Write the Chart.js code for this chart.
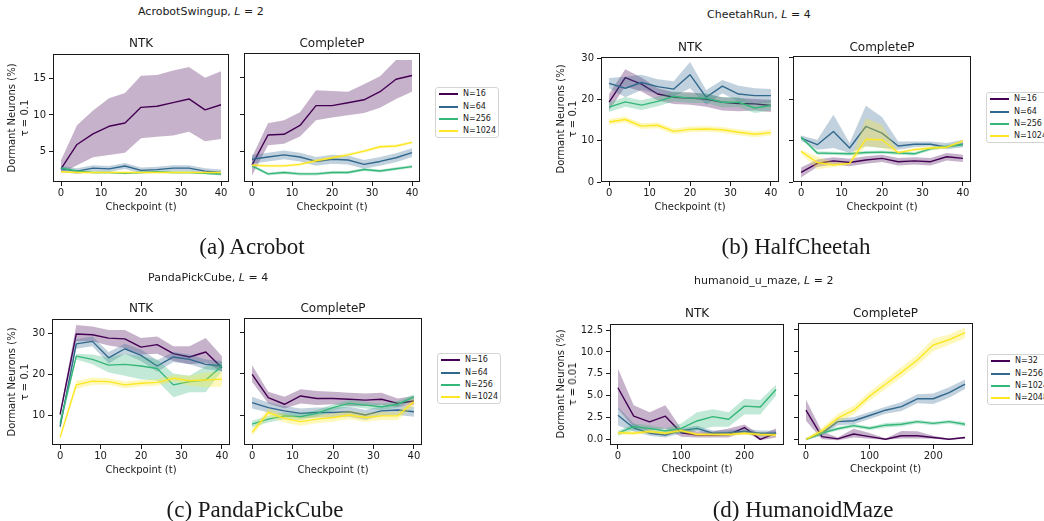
<!DOCTYPE html>
<html>
<head>
<meta charset="utf-8">
<title>Dormant neurons: NTK vs CompleteP</title>
<script src="https://cdn.jsdelivr.net/npm/chart.js"></script>
<style>
  body { margin: 0; width: 1044px; height: 521px; overflow: hidden; background: #fff; position: relative;
         font-family: "DejaVu Sans", sans-serif; color: #1a1a1a; }
  canvas { position: absolute; }
  .txt { position: absolute; white-space: nowrap; line-height: 1.2; }
  .leg { position: absolute; width: 64px; height: 51px; border: 1px solid #d4d4d4; border-radius: 3px;
         background: #fff; box-sizing: border-box; }
  .leg i { position: absolute; left: 3px; width: 19px; height: 2px; }
  .leg span { position: absolute; left: 27px; font-size: 8px; line-height: 10px; transform: translateY(-50%); }
</style>
</head>
<body>
<script>
// checkpoints and ticks
const checkpoints = [0, 4, 8, 12, 16, 20, 24, 28, 32, 36, 40];
const mazeCheckpoints = [0, 25, 50, 75, 100, 125, 150, 175, 200, 225, 250];
const xTicks = [0, 10, 20, 30, 40];
const mazeXTicks = [0, 100, 200];
const acroYTicks = [5, 10, 15];
const cheetahYTicks = [0, 10, 20, 30];
const pandaYTicks = [10, 20, 30];
const mazeYTicks = [0, 2.5, 5, 7.5, 10, 12.5];
const widthsShort = ['N=16', 'N=64', 'N=256', 'N=1024'];
const widthsMaze = ['N=32', 'N=256', 'N=1024', 'N=2048'];
const viridis = ['#440154', '#31688e', '#35b779', '#fde725'];

// dormant neuron % per width (rows follow the width lists above)
const acroNtkMean = [
  [2.6, 5.95, 7.4, 8.45, 8.9, 11.05, 11.2, 11.7, 12.2, 10.7, 11.4],
  [2.6, 2.3, 2.7, 2.6, 3.0, 2.4, 2.5, 2.7, 2.7, 2.3, 2.1],
  [2.7, 2.3, 2.1, 2.1, 2.0, 2.1, 2.2, 2.1, 2.1, 2.0, 1.9],
  [2.2, 2.1, 2.1, 2.1, 2.1, 2.1, 2.1, 2.1, 2.1, 2.1, 2.1]
];
const acroNtkLo = [
  [2.0, 3.1, 4.2, 4.5, 4.8, 6.8, 7.0, 7.2, 7.7, 6.4, 6.7],
  [2.2, 1.9, 2.3, 2.2, 2.6, 2.0, 2.1, 2.3, 2.3, 1.9, 1.7],
  [2.5, 2.1, 1.95, 1.95, 1.85, 1.95, 2.05, 1.95, 1.95, 1.85, 1.75],
  [2.1, 2.0, 2.0, 2.0, 2.0, 2.0, 2.0, 2.0, 2.0, 2.0, 2.0]
];
const acroNtkHi = [
  [3.8, 8.6, 10.6, 12.3, 13.0, 15.4, 15.5, 16.1, 16.6, 15.1, 16.0],
  [3.0, 2.7, 3.1, 3.0, 3.4, 2.8, 2.9, 3.1, 3.1, 2.7, 2.5],
  [2.9, 2.5, 2.25, 2.25, 2.15, 2.25, 2.35, 2.25, 2.25, 2.15, 2.05],
  [2.3, 2.2, 2.2, 2.2, 2.2, 2.2, 2.2, 2.2, 2.2, 2.2, 2.2]
];
const acroCpMean = [
  [3.1, 7.2, 7.3, 8.5, 11.2, 11.2, 11.6, 12.0, 13.1, 14.8, 15.3],
  [3.9, 4.2, 4.5, 4.2, 3.6, 3.9, 3.8, 3.2, 3.6, 4.1, 4.8],
  [3.0, 1.9, 2.1, 1.9, 1.9, 2.1, 2.1, 2.5, 2.3, 2.6, 2.9],
  [3.1, 3.0, 3.0, 3.2, 3.7, 4.1, 4.5, 5.0, 5.6, 5.7, 6.2]
];
const acroCpLo = [
  [1.7, 5.8, 6.0, 7.0, 9.2, 9.6, 9.9, 10.2, 10.9, 12.1, 13.1],
  [3.3, 3.6, 3.9, 3.6, 3.0, 3.3, 3.2, 2.6, 3.0, 3.5, 4.2],
  [2.8, 1.7, 1.9, 1.7, 1.7, 1.9, 1.9, 2.3, 2.1, 2.4, 2.7],
  [2.9, 2.8, 2.8, 3.0, 3.5, 3.9, 4.3, 4.8, 5.4, 5.5, 6.0]
];
const acroCpHi = [
  [4.2, 8.8, 9.2, 10.3, 13.3, 13.2, 13.1, 14.1, 15.2, 17.4, 17.4],
  [4.5, 4.8, 5.1, 4.8, 4.2, 4.5, 4.4, 3.8, 4.2, 4.7, 5.4],
  [3.2, 2.1, 2.3, 2.1, 2.1, 2.3, 2.3, 2.7, 2.5, 2.8, 3.1],
  [3.3, 3.2, 3.2, 3.4, 3.9, 4.3, 4.7, 5.2, 5.8, 5.9, 6.4]
];

const cheetahNtkMean = [
  [19.4, 25.4, 23.8, 21.4, 20.6, 20.4, 20.2, 19.4, 19.1, 19.0, 18.6],
  [24.0, 22.8, 24.2, 23.2, 22.6, 26.1, 20.6, 23.3, 21.4, 21.0, 21.0],
  [18.2, 19.5, 18.7, 19.6, 20.8, 20.4, 20.4, 19.4, 19.4, 18.0, 18.6],
  [14.6, 15.2, 13.6, 13.8, 12.3, 12.8, 12.9, 12.7, 12.1, 11.6, 12.0]
];
const cheetahNtkLo = [
  [17.4, 23.2, 22.0, 19.8, 19.0, 18.8, 18.3, 17.4, 17.2, 17.4, 17.0],
  [22.8, 20.6, 22.4, 21.4, 20.8, 22.8, 18.8, 21.6, 19.5, 19.1, 19.4],
  [17.0, 18.3, 17.5, 18.4, 19.6, 19.2, 19.2, 18.2, 18.2, 16.8, 17.4],
  [13.9, 14.5, 12.9, 13.1, 11.6, 12.1, 12.2, 12.0, 11.4, 10.9, 11.3]
];
const cheetahNtkHi = [
  [21.4, 27.4, 25.4, 22.8, 21.8, 21.8, 21.4, 20.6, 20.4, 20.2, 20.0],
  [25.3, 25.6, 26.1, 25.0, 24.5, 29.2, 22.4, 24.8, 23.4, 22.8, 22.6],
  [19.4, 20.7, 19.9, 20.8, 22.0, 21.6, 21.6, 20.6, 20.6, 19.2, 19.8],
  [15.3, 15.9, 14.3, 14.5, 13.0, 13.5, 13.6, 13.4, 12.8, 12.3, 12.7]
];
const cheetahCpMean = [
  [2.3, 4.5, 5.1, 4.7, 5.3, 5.7, 4.9, 5.1, 4.9, 6.1, 5.7],
  [10.6, 9.0, 12.2, 8.2, 13.4, 11.8, 8.7, 9.1, 9.1, 8.4, 9.2],
  [10.8, 7.0, 6.9, 6.8, 7.1, 7.2, 7.0, 6.8, 8.0, 8.6, 9.0],
  [7.4, 4.7, 4.1, 4.5, 10.3, 10.2, 7.1, 7.8, 8.2, 8.4, 9.9]
];
const cheetahCpLo = [
  [1.1, 3.6, 4.2, 3.8, 4.4, 4.8, 4.0, 4.2, 4.0, 5.2, 4.8],
  [10.0, 7.8, 8.2, 7.0, 8.6, 8.2, 7.8, 8.4, 8.6, 7.9, 8.4],
  [10.4, 6.6, 6.5, 6.4, 6.7, 6.8, 6.6, 6.4, 7.6, 8.2, 8.6],
  [6.8, 3.1, 3.6, 4.1, 8.6, 8.2, 6.8, 7.4, 7.8, 8.0, 9.5]
];
const cheetahCpHi = [
  [3.5, 5.4, 6.0, 5.6, 6.2, 6.6, 5.8, 6.0, 5.8, 7.0, 6.6],
  [11.2, 10.2, 16.2, 9.4, 18.4, 15.7, 9.8, 9.8, 9.8, 9.4, 10.2],
  [11.2, 7.4, 7.3, 7.2, 7.5, 7.6, 7.4, 7.2, 8.4, 9.0, 9.4],
  [7.8, 6.1, 4.7, 4.7, 15.4, 13.8, 7.4, 8.2, 8.6, 8.7, 10.2]
];

const pandaNtkMean = [
  [10.2, 29.8, 29.6, 28.8, 28.6, 26.6, 27.2, 25.0, 24.2, 25.4, 21.6],
  [7.2, 27.4, 28.0, 24.0, 26.2, 24.6, 22.0, 24.2, 23.6, 22.4, 22.0],
  [8.0, 24.4, 23.6, 22.2, 22.4, 22.0, 21.4, 17.4, 18.2, 18.6, 22.0],
  [4.6, 17.4, 18.3, 18.2, 17.4, 17.8, 18.0, 19.0, 18.4, 18.6, 18.8]
];
const pandaNtkLo = [
  [9.6, 28.0, 28.0, 27.0, 26.4, 24.8, 25.0, 23.2, 22.4, 22.8, 20.6],
  [6.4, 26.2, 26.8, 22.6, 25.0, 23.2, 20.6, 23.0, 22.4, 21.2, 20.8],
  [6.8, 23.6, 22.4, 20.4, 19.6, 18.8, 18.4, 14.4, 15.6, 15.6, 20.8],
  [4.0, 16.4, 17.4, 17.4, 16.6, 17.0, 17.2, 18.2, 17.2, 16.8, 17.0]
];
const pandaNtkHi = [
  [10.8, 32.0, 31.6, 30.8, 30.8, 28.8, 29.2, 26.8, 26.8, 28.8, 24.4],
  [8.0, 28.6, 29.2, 25.4, 27.4, 26.0, 23.4, 25.4, 24.8, 23.6, 23.2],
  [9.2, 25.0, 24.8, 24.0, 25.0, 24.4, 23.6, 20.2, 19.6, 22.0, 23.0],
  [5.2, 18.4, 19.2, 19.0, 18.2, 18.6, 18.8, 19.8, 19.6, 20.4, 20.6]
];
const pandaCpMean = [
  [19.8, 14.2, 12.6, 14.6, 14.0, 14.0, 13.8, 13.6, 13.8, 12.8, 13.4],
  [13.0, 11.8, 11.0, 10.4, 10.6, 10.6, 10.8, 10.0, 11.0, 11.2, 10.8],
  [7.8, 9.0, 9.8, 9.6, 10.4, 11.8, 12.8, 12.4, 12.0, 12.6, 14.4],
  [5.8, 10.6, 9.2, 8.4, 9.0, 9.4, 10.0, 9.4, 9.8, 9.8, 13.2]
];
const pandaCpLo = [
  [18.0, 12.8, 11.6, 12.8, 12.4, 12.6, 12.2, 12.2, 12.4, 12.0, 12.4],
  [11.6, 10.6, 9.8, 9.2, 9.4, 9.4, 9.6, 8.8, 9.8, 10.0, 9.6],
  [7.0, 8.2, 9.0, 8.8, 9.6, 11.0, 12.0, 11.6, 11.2, 11.8, 13.6],
  [5.0, 9.6, 8.2, 7.4, 8.0, 8.4, 9.0, 8.4, 8.8, 8.8, 12.2]
];
const pandaCpHi = [
  [22.0, 15.6, 14.4, 16.2, 15.8, 15.6, 15.4, 15.2, 15.4, 14.0, 14.6],
  [14.4, 13.0, 12.2, 11.6, 11.8, 11.8, 12.0, 11.2, 12.2, 12.4, 12.0],
  [8.6, 9.8, 10.6, 10.4, 11.2, 12.6, 13.6, 13.2, 12.8, 13.4, 15.0],
  [6.6, 11.6, 10.2, 9.4, 10.0, 10.4, 11.0, 10.4, 10.8, 10.8, 14.0]
];

const mazeNtkMean = [
  [5.9, 2.65, 2.0, 2.65, 0.75, 0.5, 0.5, 0.55, 1.35, 0.0, 0.7],
  [2.75, 1.3, 0.7, 0.5, 1.0, 1.25, 0.7, 0.75, 0.9, 0.7, 0.7],
  [0.7, 1.45, 1.25, 0.95, 1.25, 2.1, 2.6, 2.3, 3.8, 3.7, 5.7],
  [0.75, 0.7, 0.9, 0.7, 1.0, 0.55, 0.55, 0.55, 0.7, 0.55, 0.5]
];
const mazeNtkLo = [
  [3.5, 1.35, 1.0, 1.25, 0.3, 0.2, 0.2, 0.2, 0.9, -0.1, 0.2],
  [1.6, 0.9, 0.4, 0.2, 0.7, 0.95, 0.4, 0.45, 0.6, 0.4, 0.4],
  [0.4, 1.05, 0.9, 0.7, 0.7, 1.05, 1.45, 1.45, 2.85, 2.85, 5.0],
  [0.55, 0.5, 0.7, 0.5, 0.8, 0.35, 0.35, 0.35, 0.5, 0.35, 0.3]
];
const mazeNtkHi = [
  [8.1, 3.9, 3.1, 3.9, 1.25, 0.9, 0.9, 1.25, 1.7, 0.5, 1.25],
  [3.7, 1.8, 1.0, 0.8, 1.3, 1.55, 1.0, 1.05, 1.2, 1.0, 1.0],
  [0.95, 1.8, 1.6, 1.3, 1.8, 3.1, 3.45, 3.1, 4.65, 4.5, 6.25],
  [0.95, 0.9, 1.1, 0.9, 1.2, 0.75, 0.75, 0.75, 0.9, 0.75, 0.7]
];
const mazeCpMean = [
  [3.3, 0.3, 0.05, 0.6, 0.3, 0.0, 0.4, 0.4, 0.2, 0.0, 0.2],
  [0.0, 0.7, 2.0, 2.1, 2.7, 3.3, 3.7, 4.6, 4.6, 5.3, 6.25],
  [0.0, 0.7, 1.2, 1.55, 1.25, 1.6, 1.7, 2.0, 1.8, 2.0, 1.7],
  [0.0, 0.95, 2.4, 3.3, 4.9, 6.25, 7.6, 9.0, 10.7, 11.3, 12.1]
];
const mazeCpLo = [
  [2.1, 0.0, -0.1, 0.2, 0.05, -0.05, 0.1, 0.1, 0.05, -0.05, 0.05],
  [-0.1, 0.4, 1.6, 1.7, 2.3, 2.9, 3.2, 4.1, 4.0, 4.7, 5.7],
  [-0.1, 0.5, 1.0, 1.35, 1.05, 1.35, 1.45, 1.8, 1.6, 1.8, 1.45],
  [-0.1, 0.6, 1.9, 2.8, 4.4, 5.7, 7.0, 8.4, 10.0, 10.7, 11.5]
];
const mazeCpHi = [
  [4.5, 0.9, 0.2, 1.2, 0.7, 0.1, 0.95, 0.9, 0.4, 0.1, 0.3],
  [0.1, 1.0, 2.4, 2.5, 3.1, 3.7, 4.2, 5.1, 5.2, 5.9, 6.8],
  [0.1, 0.9, 1.4, 1.75, 1.45, 1.85, 1.95, 2.2, 2.0, 2.2, 1.95],
  [0.1, 1.3, 2.9, 3.8, 5.4, 6.8, 8.2, 9.6, 11.4, 11.9, 12.7]
];

// layout of each figure: axes boxes are [left, top, right, bottom] in page pixels
const panels = [
  { title: 'AcrobotSwingup, <i>L</i> = 2', titleAt: [138, 12], tau: 'τ = 0.1', caption: '(a) Acrobot', capAt: [252, 247],
    x: checkpoints, xTicks: xTicks, xRange: [-2, 42], yTicks: acroYTicks, yRange: [0.8, 18.37], names: widthsShort,
    ylabAt: [12, 25, 117.5], legAt: [435, 87], headY: 43, xlabY: 207,
    ntk: { box: [53, 53, 229, 182], mean: acroNtkMean, lo: acroNtkLo, hi: acroNtkHi },
    cp: { box: [244, 53, 420, 182], mean: acroCpMean, lo: acroCpLo, hi: acroCpHi } },
  { title: 'CheetahRun, <i>L</i> = 4', titleAt: [707, 15], tau: 'τ = 0.1', caption: '(b) HalfCheetah', capAt: [796, 247],
    x: checkpoints, xTicks: xTicks, xRange: [-2, 42], yTicks: cheetahYTicks, yRange: [0, 30.4], names: widthsShort,
    ylabAt: [561, 573, 119], legAt: [986, 92], headY: 47, xlabY: 207,
    ntk: { box: [601, 56, 779, 182], mean: cheetahNtkMean, lo: cheetahNtkLo, hi: cheetahNtkHi },
    cp: { box: [793, 56, 971, 182], mean: cheetahCpMean, lo: cheetahCpLo, hi: cheetahCpHi } },
  { title: 'PandaPickCube, <i>L</i> = 4', titleAt: [148, 278], tau: 'τ = 0.1', caption: '(c) PandaPickCube', capAt: [255, 510],
    x: checkpoints, xTicks: xTicks, xRange: [-2, 42], yTicks: pandaYTicks, yRange: [2.75, 33.45], names: widthsShort,
    ylabAt: [12, 25, 381.5], legAt: [437, 353], headY: 308, xlabY: 470,
    ntk: { box: [52, 318, 230, 445], mean: pandaNtkMean, lo: pandaNtkLo, hi: pandaNtkHi },
    cp: { box: [244, 318, 422, 445], mean: pandaCpMean, lo: pandaCpLo, hi: pandaCpHi } },
  { title: 'humanoid_u_maze, <i>L</i> = 2', titleAt: [694, 281], tau: 'τ = 0.01', caption: '(d) HumanoidMaze', capAt: [803, 510],
    x: mazeCheckpoints, xTicks: mazeXTicks, xRange: [-12.5, 262.5], yTicks: mazeYTicks, yRange: [-0.65, 13.2], names: widthsMaze,
    yFmt: v => v.toFixed(1), ylabAt: [561, 573, 384], legAt: [987, 354], headY: 313, xlabY: 469,
    ntk: { box: [610, 323, 784, 445], mean: mazeNtkMean, lo: mazeNtkLo, hi: mazeNtkHi },
    cp: { box: [798, 323, 973, 445], mean: mazeCpMean, lo: mazeCpLo, hi: mazeCpHi } }
];

const PAD_T = 8, PAD_R = 12, X_H = 28;
const INK = '#1a1a1a';
Chart.defaults.font.family = 'DejaVu Sans';

// matplotlib-style closed frame around the plot area
const framePlugin = {
  id: 'frame',
  afterDatasetsDraw(chart) {
    const { ctx, chartArea: a } = chart;
    ctx.save();
    ctx.strokeStyle = INK;
    ctx.lineWidth = 1;
    ctx.strokeRect(Math.round(a.left) + 0.5, Math.round(a.top) + 0.5,
                   Math.round(a.right - a.left) - 1, Math.round(a.bottom - a.top) - 1);
    ctx.restore();
  }
};

function rgba(hex, a) {
  const n = parseInt(hex.slice(1), 16);
  return `rgba(${n >> 16}, ${(n >> 8) & 255}, ${n & 255}, ${a})`;
}

function text(html, x, y, opt = {}) {
  const d = document.createElement('div');
  d.className = 'txt';
  d.innerHTML = html;
  d.style.left = x + 'px';
  d.style.top = y + 'px';
  d.style.fontSize = (opt.size || 10) + 'px';
  if (opt.serif) d.style.fontFamily = '"Liberation Serif", serif';
  const tx = opt.left ? '0' : '-50%';
  d.style.transform = `translate(${tx}, -50%)` + (opt.rot ? ' rotate(-90deg)' : '');
  document.body.appendChild(d);
}

function legend(p) {
  const box = document.createElement('div');
  box.className = 'leg';
  box.style.left = p.legAt[0] + 'px';
  box.style.top = p.legAt[1] + 'px';
  const rows = [6, 18.5, 31, 43];
  p.names.forEach((name, i) => {
    const line = document.createElement('i');
    line.style.top = Math.round(rows[i] - 1) + 'px';
    line.style.background = viridis[i];
    const lab = document.createElement('span');
    lab.style.top = rows[i] + 'px';
    lab.textContent = name;
    box.appendChild(line);
    box.appendChild(lab);
  });
  document.body.appendChild(box);
}

function axes(p, sub, withYLabels) {
  const [l, t, r, b] = sub.box;
  const yW = withYLabels ? 36 : 6;
  const w = r - l + yW + PAD_R, h = b - t + PAD_T + X_H;
  const c = document.createElement('canvas');
  c.width = w; c.height = h;
  c.style.left = (l - yW) + 'px';
  c.style.top = (t - PAD_T) + 'px';
  c.style.width = w + 'px';
  c.style.height = h + 'px';
  document.body.appendChild(c);

  const pts = arr => arr.map((v, k) => ({ x: p.x[k], y: v }));
  const datasets = [];
  sub.mean.forEach((m, i) => {
    const col = viridis[i];
    datasets.push({ data: pts(sub.lo[i]), borderColor: 'rgba(0,0,0,0)', borderWidth: 0,
                    pointRadius: 0, fill: false, order: 100 - 10 * i });
    datasets.push({ data: pts(sub.hi[i]), borderColor: 'rgba(0,0,0,0)', borderWidth: 0,
                    pointRadius: 0, fill: '-1', backgroundColor: rgba(col, 0.3), order: 99 - 10 * i });
    datasets.push({ data: pts(m), borderColor: col, borderWidth: 1.4, pointRadius: 0,
                    fill: false, tension: 0, borderJoinStyle: 'round', order: 98 - 10 * i });
  });

  const tickFont = { family: 'DejaVu Sans', size: 10 };
  const grid = { display: true, drawOnChartArea: false, drawTicks: true, tickLength: 4, tickWidth: 1, color: INK };

  new Chart(c, {
    type: 'line',
    data: { datasets },
    options: {
      responsive: false,
      animation: false,
      devicePixelRatio: 1,
      layout: { autoPadding: false, padding: { top: PAD_T, right: PAD_R, left: 0, bottom: 0 } },
      plugins: { legend: { display: false }, tooltip: { enabled: false } },
      scales: {
        x: {
          type: 'linear', min: p.xRange[0], max: p.xRange[1],
          afterFit: s => { s.height = X_H; },
          afterBuildTicks: s => { s.ticks = p.xTicks.map(v => ({ value: v })); },
          ticks: { font: tickFont, color: INK, padding: 1, maxRotation: 0, autoSkip: false,
                   callback: v => String(v) },
          grid, border: { display: false }
        },
        y: {
          type: 'linear', min: p.yRange[0], max: p.yRange[1],
          afterFit: s => { s.width = yW; },
          afterBuildTicks: s => { s.ticks = p.yTicks.map(v => ({ value: v })); },
          ticks: { display: withYLabels, font: tickFont, color: INK, padding: 3, autoSkip: false,
                   callback: v => (p.yFmt ? p.yFmt(v) : String(v)) },
          grid, border: { display: false }
        }
      }
    },
    plugins: [framePlugin]
  });
}

panels.forEach(p => {
  axes(p, p.ntk, true);
  axes(p, p.cp, false);
  text(p.title, p.titleAt[0], p.titleAt[1], { size: 11, left: true });
  const cN = (p.ntk.box[0] + p.ntk.box[2]) / 2, cC = (p.cp.box[0] + p.cp.box[2]) / 2;
  text('NTK', cN, p.headY, { size: 12 });
  text('CompleteP', cC, p.headY, { size: 12 });
  text('Checkpoint (t)', cN, p.xlabY, { size: 10 });
  text('Checkpoint (t)', cC, p.xlabY, { size: 10 });
  text('Dormant Neurons (%)', p.ylabAt[0], p.ylabAt[2], { size: 10, rot: true });
  text(p.tau, p.ylabAt[1], p.ylabAt[2], { size: 10, rot: true });
  legend(p);
  text(p.caption, p.capAt[0], p.capAt[1], { size: 23, serif: true });
});
</script>
</body>
</html>
